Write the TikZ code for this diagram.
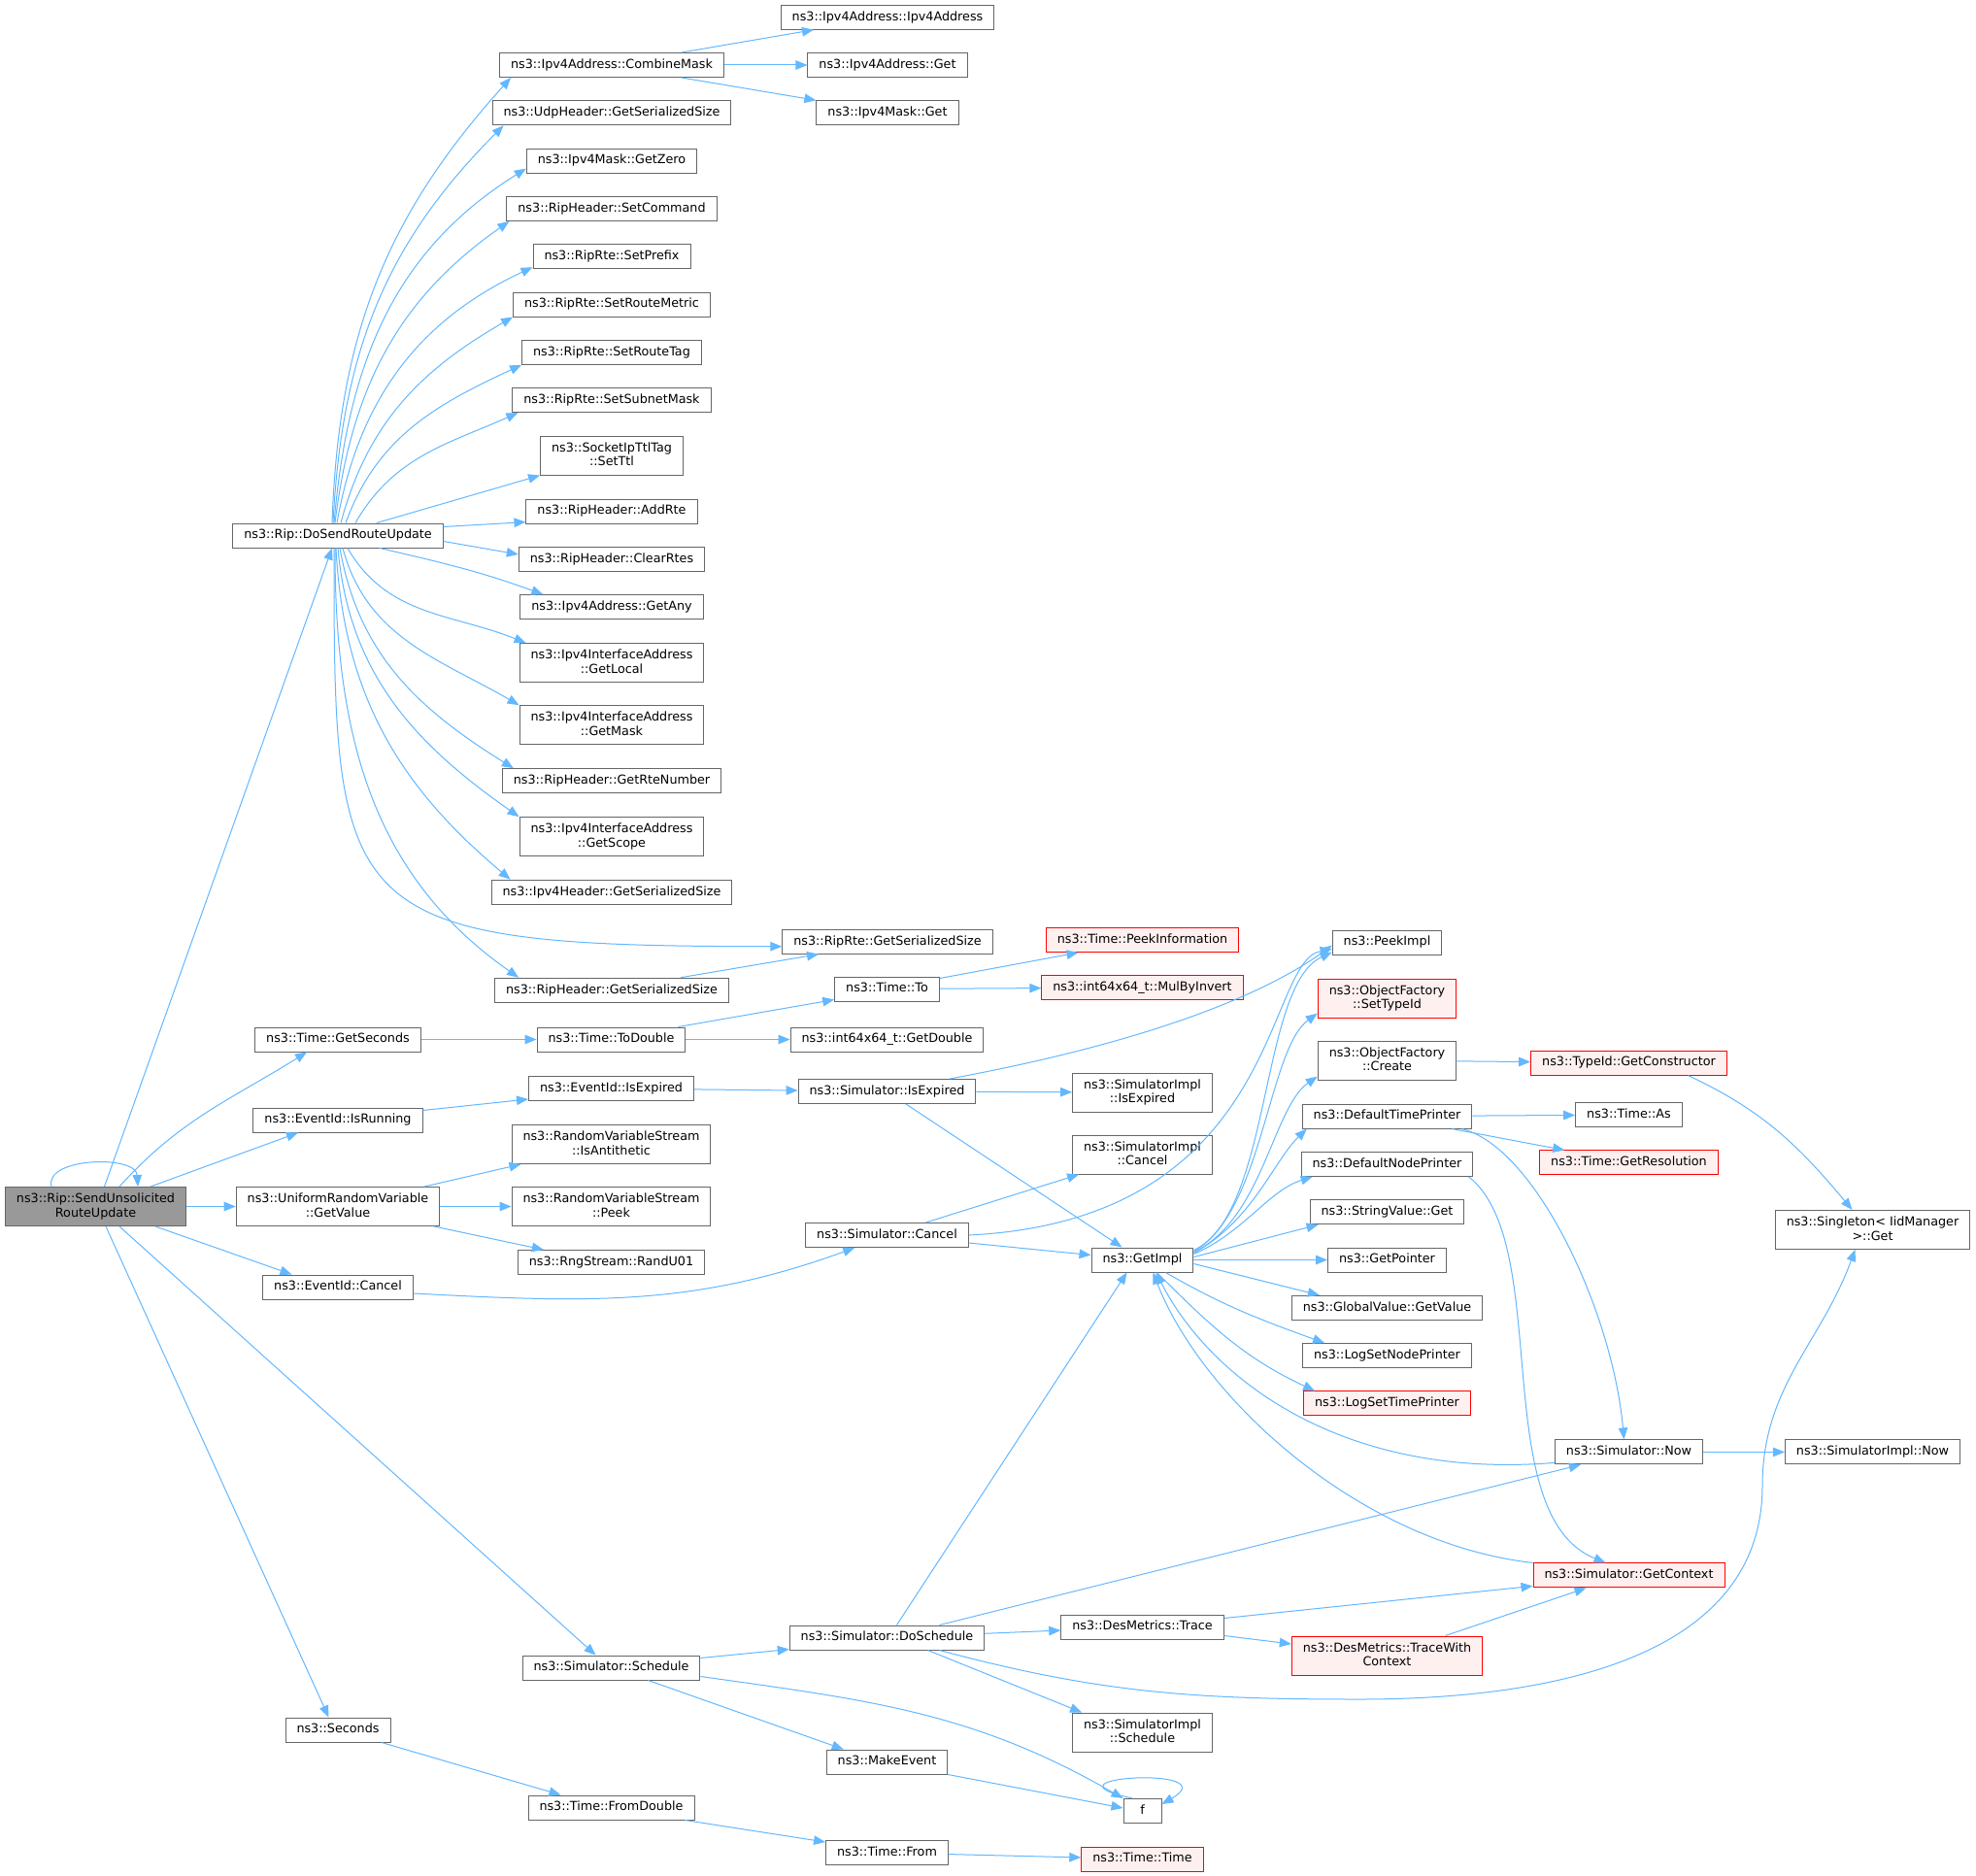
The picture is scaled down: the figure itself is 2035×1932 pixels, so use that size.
\documentclass[tikz,border=0pt]{standalone}
\usepackage{fontspec}
\setmainfont{DejaVu Sans}
\usetikzlibrary{arrows.meta}

\definecolor{edgeblue}{HTML}{63B8FF}
\definecolor{boxgray}{HTML}{666666}
\definecolor{rootfill}{HTML}{999999}
\definecolor{redfill}{HTML}{FFF0F0}
\newcommand{\fnfont}{\fontsize{12.75pt}{14.5pt}\selectfont}

\tikzstyle{fn} = [rectangle, draw=boxgray, fill=white, line width=1pt, minimum height=25pt, inner xsep=11.5pt, inner ysep=2pt, text height=9.7pt, text depth=3pt, font=\fnfont]
\tikzstyle{fn-two} = [rectangle, draw=boxgray, fill=white, line width=1pt, minimum height=40pt, inner xsep=11.5pt, inner ysep=2pt, align=center, font=\fnfont, execute at begin node={\rule{0pt}{9.7pt}}, execute at end node={\rule[-3pt]{0pt}{3pt}}]
\tikzstyle{fn-red} = [draw=red, fill=redfill]
\tikzstyle{fn-root} = [fill=rootfill]
\tikzstyle{arrow} = [draw=edgeblue, line width=1pt, -{Triangle[length=12pt,width=9.5pt]}]

\begin{document}
\begin{tikzpicture}[x=1pt, y=-1pt, node distance=49.3pt]
  \useasboundingbox[fill=white] (0,0) rectangle (2035,1932);

  \node (root) [fn-two, fn-root] at (98.5,1242.5) {ns3::Rip::SendUnsolicited\\RouteUpdate};

  % callees of the root
  \node (getvalue) [fn-two, node distance=249.5pt, right of=root] {ns3::UniformRandomVariable\\::GetValue};
  \node (isrunning) [fn, node distance=89pt, above of=getvalue] {ns3::EventId::IsRunning};
  \node (getseconds) [fn, node distance=83pt, above of=isrunning] {ns3::Time::GetSeconds};
  \node (evcancel) [fn, node distance=83pt, below of=getvalue] {ns3::EventId::Cancel};
  \node (seconds) [fn, node distance=456pt, below of=evcancel] {ns3::Seconds};
  \node (dosend) [fn, node distance=519pt, above of=getseconds] {ns3::Rip::DoSendRouteUpdate};

  % third column
  \node (combinemask) [fn, node distance=282pt, right of=dosend, yshift=484.5pt] {ns3::Ipv4Address::CombineMask};
  \node (udpsize) [fn, below of=combinemask] {ns3::UdpHeader::GetSerializedSize};
  \node (getzero) [fn, below of=udpsize] {ns3::Ipv4Mask::GetZero};
  \node (setcommand) [fn, below of=getzero] {ns3::RipHeader::SetCommand};
  \node (setprefix) [fn, below of=setcommand] {ns3::RipRte::SetPrefix};
  \node (setmetric) [fn, below of=setprefix] {ns3::RipRte::SetRouteMetric};
  \node (settag) [fn, below of=setmetric] {ns3::RipRte::SetRouteTag};
  \node (setsubnet) [fn, below of=settag] {ns3::RipRte::SetSubnetMask};
  \node (setttl) [fn-two, below of=setsubnet, yshift=-7.7pt] {ns3::SocketIpTtlTag\\::SetTtl};
  \node (addrte) [fn, below of=setttl, yshift=-8.2pt] {ns3::RipHeader::AddRte};
  \node (clearrtes) [fn, below of=addrte] {ns3::RipHeader::ClearRtes};
  \node (getany) [fn, below of=clearrtes] {ns3::Ipv4Address::GetAny};
  \node (getlocal) [fn-two, below of=getany, yshift=-8.2pt] {ns3::Ipv4InterfaceAddress\\::GetLocal};
  \node (getmask) [fn-two, below of=getlocal, yshift=-14.7pt] {ns3::Ipv4InterfaceAddress\\::GetMask};
  \node (getrtenum) [fn, below of=getmask, yshift=-8.2pt] {ns3::RipHeader::GetRteNumber};
  \node (getscope) [fn-two, below of=getrtenum, yshift=-8.2pt] {ns3::Ipv4InterfaceAddress\\::GetScope};
  \node (ipv4hdrsize) [fn, below of=getscope, yshift=-7.7pt] {ns3::Ipv4Header::GetSerializedSize};
  \node (riphdrsize) [fn, below of=ipv4hdrsize, yshift=-51.7pt] {ns3::RipHeader::GetSerializedSize};
  \node (todouble) [fn, node distance=281.5pt, right of=getseconds] {ns3::Time::ToDouble};
  \node (evexpired) [fn, node distance=281.5pt, right of=isrunning, yshift=32.5pt] {ns3::EventId::IsExpired};
  \node (antithetic) [fn-two, node distance=281.5pt, right of=getvalue, yshift=64pt] {ns3::RandomVariableStream\\::IsAntithetic};
  \node (peek) [fn-two, node distance=281.5pt, right of=getvalue] {ns3::RandomVariableStream\\::Peek};
  \node (randu) [fn, node distance=281.5pt, right of=getvalue, yshift=-57.5pt] {ns3::RngStream::RandU01};
  \node (schedule) [fn, node distance=281.5pt, right of=seconds, yshift=64pt] {ns3::Simulator::Schedule};
  \node (fromdouble) [fn, node distance=281.5pt, right of=seconds, yshift=-80pt] {ns3::Time::FromDouble};

  % fourth column
  \node (ipv4get) [fn, node distance=284pt, right of=combinemask] {ns3::Ipv4Address::Get};
  \node (ipv4addr) [fn, above of=ipv4get] {ns3::Ipv4Address::Ipv4Address};
  \node (maskget) [fn, below of=ipv4get] {ns3::Ipv4Mask::Get};
  \node (rtesize) [fn, node distance=284pt, right of=riphdrsize, yshift=50pt] {ns3::RipRte::GetSerializedSize};
  \node (timeto) [fn, node distance=284pt, right of=todouble, yshift=52pt] {ns3::Time::To};
  \node (getdouble) [fn, node distance=284pt, right of=todouble] {ns3::int64x64\_t::GetDouble};
  \node (simexpired) [fn, node distance=284pt, right of=evexpired, yshift=-3pt] {ns3::Simulator::IsExpired};
  \node (simcancel) [fn, node distance=284pt, right of=randu, yshift=28pt] {ns3::Simulator::Cancel};
  \node (doschedule) [fn, node distance=284pt, right of=schedule, yshift=31pt] {ns3::Simulator::DoSchedule};
  \node (makeevent) [fn, node distance=284pt, right of=schedule, yshift=-97pt] {ns3::MakeEvent};
  \node (timefrom) [fn, node distance=284pt, right of=fromdouble, yshift=-46.5pt] {ns3::Time::From};

  % fifth column
  \node (peekinfo) [fn, fn-red, node distance=263pt, right of=timeto, yshift=50.5pt] {ns3::Time::PeekInformation};
  \node (mulinv) [fn, fn-red, node distance=263pt, right of=timeto, yshift=1.5pt] {ns3::int64x64\_t::MulByInvert};
  \node (implexpired) [fn-two, node distance=263pt, right of=simexpired, yshift=-1pt] {ns3::SimulatorImpl\\::IsExpired};
  \node (implcancel) [fn-two, node distance=64pt, below of=implexpired] {ns3::SimulatorImpl\\::Cancel};
  \node (getimpl) [fn, node distance=263pt, right of=simcancel, yshift=-25.5pt] {ns3::GetImpl};
  \node (trace) [fn, node distance=263pt, right of=doschedule, yshift=11pt] {ns3::DesMetrics::Trace};
  \node (implschedule) [fn-two, node distance=263pt, right of=doschedule, yshift=-97.5pt] {ns3::SimulatorImpl\\::Schedule};
  \node (ffun) [fn, minimum width=39pt, node distance=263pt, right of=makeevent, yshift=-50.5pt] {f};
  \node (timetime) [fn, fn-red, node distance=263pt, right of=timefrom, yshift=-6.5pt] {ns3::Time::Time};

  % sixth column
  \node (getpointer) [fn, node distance=252pt, right of=getimpl] {ns3::GetPointer};
  \node (stringget) [fn, above of=getpointer] {ns3::StringValue::Get};
  \node (nodeprinter) [fn, above of=stringget] {ns3::DefaultNodePrinter};
  \node (timeprinter) [fn, above of=nodeprinter] {ns3::DefaultTimePrinter};
  \node (create) [fn-two, above of=timeprinter, yshift=8.2pt] {ns3::ObjectFactory\\::Create};
  \node (settypeid) [fn-two, fn-red, above of=create, yshift=14.7pt] {ns3::ObjectFactory\\::SetTypeId};
  \node (peekimpl) [fn, above of=settypeid, yshift=8.2pt] {ns3::PeekImpl};
  \node (globalvalue) [fn, below of=getpointer] {ns3::GlobalValue::GetValue};
  \node (lognode) [fn, below of=globalvalue] {ns3::LogSetNodePrinter};
  \node (logtime) [fn, fn-red, below of=lognode] {ns3::LogSetTimePrinter};
  \node (tracectx) [fn-two, fn-red, node distance=252pt, right of=trace, yshift=-29.5pt] {ns3::DesMetrics::TraceWith\\Context};

  % seventh and eighth columns
  \node (timeas) [fn, node distance=249pt, right of=timeprinter, yshift=1.5pt] {ns3::Time::As};
  \node (getres) [fn, fn-red, below of=timeas] {ns3::Time::GetResolution};
  \node (getctor) [fn, fn-red, node distance=249pt, right of=create, yshift=-2.5pt] {ns3::TypeId::GetConstructor};
  \node (simnow) [fn, node distance=249pt, right of=logtime, yshift=-50pt] {ns3::Simulator::Now};
  \node (getcontext) [fn, fn-red, node distance=127pt, below of=simnow] {ns3::Simulator::GetContext};
  \node (implnow) [fn, node distance=251pt, right of=simnow] {ns3::SimulatorImpl::Now};
  \node (singleton) [fn-two, node distance=229pt, above of=implnow] {ns3::Singleton< IidManager\\>::Get};

  % root
  \draw [arrow] ([xshift=-45.5pt]root.north) .. controls +(-8,-30) and +(-2,-33) .. ([xshift=43.5pt]root.north);
  \draw [arrow] ([xshift=9pt]root.north) -- ([xshift=-6pt]dosend.south);
  \draw [arrow] ([xshift=24.5pt]root.north) to[out=48,in=212] ([xshift=-32pt]getseconds.south);
  \draw [arrow] ([xshift=56.5pt]root.north) -- ([xshift=-41pt]isrunning.south);
  \draw [arrow] (root) -- (getvalue);
  \draw [arrow] ([xshift=61.5pt]root.south) -- ([xshift=-47.5pt]evcancel.north);
  \draw [arrow] ([xshift=24.5pt]root.south) -- ([xshift=-16pt]schedule.north);
  \draw [arrow] ([xshift=10.5pt]root.south) -- ([xshift=-9.5pt]seconds.north);

  % DoSendRouteUpdate
  \draw [arrow] ([xshift=-6pt]dosend.north) to[out=88,in=228] ([xshift=12pt]combinemask.south west);
  \draw [arrow] ([xshift=-5pt]dosend.north) to[out=87,in=225] ([xshift=12pt]udpsize.south west);
  \draw [arrow] ([xshift=-4pt]dosend.north) to[out=85,in=212] ([yshift=5pt]getzero.south west);
  \draw [arrow] ([xshift=-3pt]dosend.north) to[out=83,in=215] ([xshift=3pt]setcommand.south west);
  \draw [arrow] ([xshift=-1pt]dosend.north) to[out=80,in=205] ([yshift=2pt]setprefix.south west);
  \draw [arrow] ([xshift=3pt]dosend.north) to[out=75,in=210] (setmetric.south west);
  \draw [arrow] ([xshift=8pt]dosend.north) to[out=70,in=205] (settag.south west);
  \draw [arrow] ([xshift=18pt]dosend.north) to[out=60,in=204] ([xshift=6pt]setsubnet.south west);
  \draw [arrow] ([xshift=40pt]dosend.north) -- (setttl.south west);
  \draw [arrow] ([yshift=9pt]dosend.east) -- ([yshift=2pt]addrte.south west);
  \draw [arrow] ([yshift=-6pt]dosend.east) -- ([yshift=5pt]clearrtes.west);
  \draw [arrow] ([xshift=43pt]dosend.south) to[out=-13,in=160] ([xshift=24pt]getany.north west);
  \draw [arrow] ([xshift=10pt]dosend.south) to[out=-60,in=158] ([xshift=7pt]getlocal.north west);
  \draw [arrow] ([xshift=5pt]dosend.south) to[out=-75,in=150] (getmask.north west);
  \draw [arrow] ([xshift=2pt]dosend.south) to[out=-80,in=148] ([xshift=12pt]getrtenum.north west);
  \draw [arrow] (dosend.south) to[out=-85,in=145] (getscope.north west);
  \draw [arrow] ([xshift=-2pt]dosend.south) to[out=-87,in=140] ([xshift=20pt]ipv4hdrsize.north west);
  \draw [arrow] ([xshift=-4pt]dosend.south) .. controls +(0,380) and +(-460,0) .. ([yshift=-5pt]rtesize.west);
  \draw [arrow] ([xshift=-3pt]dosend.south) to[out=-90,in=145] ([xshift=25pt]riphdrsize.north west);

  % third to fourth column
  \draw [arrow] ([xshift=72pt]combinemask.north) -- ([xshift=-76pt]ipv4addr.south);
  \draw [arrow] (combinemask) -- (ipv4get);
  \draw [arrow] ([xshift=72pt]combinemask.south) -- (maskget.north west);
  \draw [arrow] ([xshift=71pt]riphdrsize.north) -- ([xshift=-71pt]rtesize.south);
  \draw [arrow] (getseconds) -- (todouble);
  \draw [arrow] ([xshift=69pt]todouble.north) -- ([yshift=2pt]timeto.south west);
  \draw [arrow] (todouble) -- (getdouble);
  \draw [arrow] ([yshift=-2pt]timeto.north east) -- ([xshift=-66pt]peekinfo.south);
  \draw [arrow] (timeto) -- (mulinv);
  \draw [arrow] ([yshift=10pt]isrunning.east) -- ([yshift=-11pt]evexpired.west);
  \draw [arrow] (evexpired) -- (simexpired);
  \draw [arrow] ([xshift=64.5pt]simexpired.north) .. controls +(222,-41) and +(-60,44) .. ([yshift=-3pt]peekimpl.west);
  \draw [arrow] (simexpired) -- (implexpired);
  \draw [arrow] ([xshift=19.5pt]simexpired.south) -- ([xshift=-21pt]getimpl.north);
  \draw [arrow] ([xshift=89pt]getvalue.north) -- ([xshift=10pt]antithetic.south west);
  \draw [arrow] (getvalue) -- (peek);
  \draw [arrow] ([xshift=99pt]getvalue.south) -- ([xshift=27pt]randu.north west);
  \draw [arrow] ([yshift=-6.5pt]evcancel.east) to[out=-3,in=200] ([xshift=51pt]simcancel.south west);
  \draw [arrow] ([xshift=40pt]simcancel.north) -- ([xshift=7pt]implcancel.south west);
  \draw [arrow] (simcancel.east) .. controls +(323,-16) and +(-70,12) .. ([yshift=-7pt]peekimpl.west);
  \draw [arrow] ([yshift=-8pt]simcancel.east) -- ([yshift=5pt]getimpl.west);

  % GetImpl
  \draw [arrow] ([yshift=-3pt]getimpl.north east) .. controls +(81,-38) and +(-75,35) .. ([yshift=-10pt]peekimpl.west);
  \draw [arrow] ([yshift=-4pt]getimpl.north east) .. controls +(71,-39) and +(-51,37) .. ([yshift=5pt]settypeid.south west);
  \draw [arrow] ([yshift=-5pt]getimpl.north east) .. controls +(71,-34) and +(-46,32) .. ([yshift=4pt]create.south west);
  \draw [arrow] ([yshift=-6pt]getimpl.north east) .. controls +(61,-34) and +(-34,33) .. ([xshift=5pt]timeprinter.south west);
  \draw [arrow] ([yshift=-7pt]getimpl.north east) .. controls +(51,-22) and +(-45,14) .. ([xshift=12pt]nodeprinter.south west);
  \draw [arrow] ([yshift=3pt]getimpl.east) -- ([xshift=9pt]stringget.south west);
  \draw [arrow] (getimpl) -- (getpointer);
  \draw [arrow] ([yshift=-4pt]getimpl.east) -- ([xshift=29pt]globalvalue.north west);
  \draw [arrow] ([xshift=24pt]getimpl.south) to[out=-30,in=160] ([xshift=23pt]lognode.north west);
  \draw [arrow] ([xshift=15pt]getimpl.south) to[out=-45,in=155] ([xshift=12pt]logtime.north west);
  \draw [arrow] ([yshift=-11pt]simnow.west) .. controls +(-220,18) and +(55,108) .. ([xshift=14pt]getimpl.south);
  \draw [arrow] (getcontext.north west) .. controls +(-178,-20) and +(50,129) .. ([xshift=11pt]getimpl.south);
  \draw [arrow] ([xshift=10pt]doschedule.north) -- ([xshift=-16pt]getimpl.south);

  % printers and factory
  \draw [arrow] (timeprinter) -- (timeas);
  \draw [arrow] ([xshift=67pt]timeprinter.south) -- ([xshift=26pt]getres.north west);
  \draw [arrow] ([xshift=77pt]timeprinter.south) .. controls +(75,18) and +(-12,-133) .. ([xshift=-5pt]simnow.north);
  \draw [arrow] ([xshift=84pt]nodeprinter.south) .. controls +(88,69) and +(-123,-50) .. ([xshift=-24pt]getcontext.north);
  \draw [arrow] (create) -- (getctor);
  \draw [arrow] ([xshift=61pt]getctor.south) to[out=-25,in=130] ([xshift=-21pt]singleton.north);
  \draw [arrow] (simnow) -- (implnow);

  % scheduling
  \draw [arrow] ([xshift=54pt]doschedule.north) -- ([xshift=27pt]simnow.south west);
  \draw [arrow] (doschedule) -- (trace);
  \draw [arrow] ([xshift=42pt]doschedule.south) -- ([xshift=10pt]implschedule.north west);
  \draw [arrow] ([xshift=54pt]doschedule.south) to[out=-15,in=180] (1400,1750) to[out=0,in=-90] (1815,1530) to[out=90,in=-110] ([xshift=-18pt]singleton.south);
  \draw [arrow] ([yshift=9pt]trace.east) -- ([yshift=2pt]getcontext.south west);
  \draw [arrow] ([yshift=-9pt]trace.east) -- ([yshift=12pt]tracectx.west);
  \draw [arrow] ([xshift=60pt]tracectx.north) -- ([xshift=-44pt]getcontext.south);
  \draw [arrow] ([yshift=10pt]schedule.east) -- ([yshift=1pt]doschedule.south west);
  \draw [arrow] ([xshift=38pt]schedule.south) -- ([xshift=18pt]makeevent.north west);
  \draw [arrow] ([yshift=-9pt]schedule.east) to[out=-8,in=150] (ffun.north west);
  \draw [arrow] (makeevent.south east) -- ([yshift=3pt]ffun.west);
  \draw [arrow] ([xshift=-10pt]ffun.north) .. controls +(-106,-22) and +(69,-40) .. ([yshift=7pt]ffun.east);
  \draw [arrow] ([xshift=45pt]seconds.south) -- ([xshift=-52pt]fromdouble.north);
  \draw [arrow] ([xshift=76pt]fromdouble.south) -- ([yshift=-2pt]timefrom.north west);
  \draw [arrow] (timefrom) -- (timetime);
\end{tikzpicture}
\end{document}
